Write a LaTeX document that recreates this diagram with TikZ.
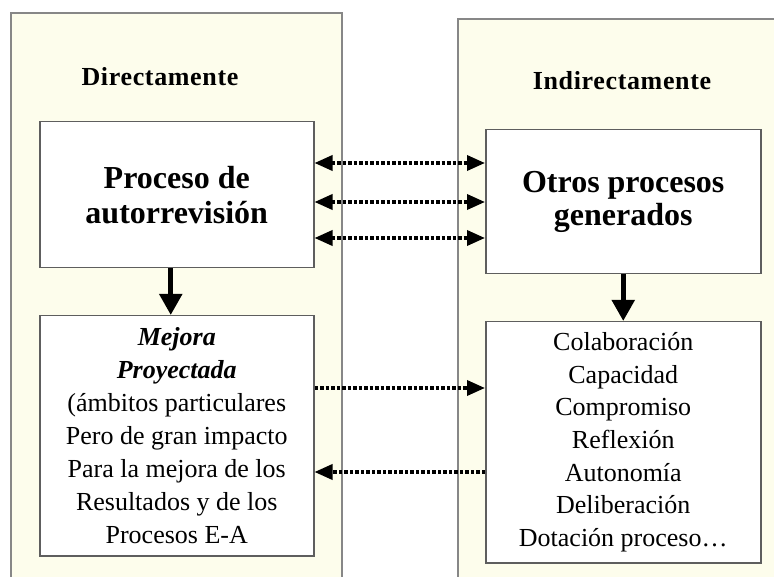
\documentclass[tikz,border=0pt]{standalone}
\usepackage{fontspec}
\setmainfont{Liberation Serif}
\usetikzlibrary{arrows.meta}
\definecolor{crema}{RGB}{253,253,236}
\definecolor{borde}{RGB}{135,135,135}
\tikzset{
	panel/.style={draw=borde,line width=1.5pt,fill=crema},
	caja/.style={draw=borde!70!black,line width=1.5pt,fill=white,inner sep=0pt,align=center,anchor=north west},
	titulo/.style={font=\fontsize{26}{30}\selectfont\bfseries\addfontfeature{LetterSpace=2.5}},
	punteada/.style={line width=3.5pt,dash pattern=on 3.5pt off 2pt},
	punta/.tip={Triangle[length=18pt,width=15pt]},
	puntagruesa/.tip={Triangle[length=21pt,width=22pt]},
}
\begin{document}
\begin{tikzpicture}[x=1pt,y=-1pt]
	\clip (0,0) rectangle (774,577);
	\fill[white] (0,0) rectangle (774,577);
	% paneles
	\draw[panel] (11,13) rectangle (342,600);
	\draw[panel] (458,19) rectangle (800,600);
	\node[titulo] (tdir) at (160,77) {Directamente};
	\node[titulo] (tindir) at (622,81) {Indirectamente};
	% cajas
	\node[caja,minimum width=274pt,minimum height=146pt,font=\fontsize{32}{35}\selectfont\bfseries] (autorev) at (39,121) {Proceso de\\autorrevisión};
	\node[caja,minimum width=275pt,minimum height=144pt,font=\fontsize{32}{33}\selectfont\bfseries] (otros) at (485,129) {Otros procesos\\generados};
	\node[caja,minimum width=274pt,minimum height=240pt,font=\fontsize{26}{33}\selectfont] (mejora) at (39,315) {\textbf{\textit{Mejora}}\\\textbf{\textit{Proyectada}}\\(ámbitos particulares\\Pero de gran impacto\\Para la mejora de los\\Resultados y de los\\Procesos E-A};
	\node[caja,minimum width=275pt,minimum height=241pt,font=\fontsize{26}{32.7}\selectfont] (efectos) at (485,321) {Colaboración\\Capacidad\\Compromiso\\Reflexión\\Autonomía\\Deliberación\\Dotación proceso\dots};
	% flechas
	\draw[line width=5pt,-puntagruesa] ([xshift=-6pt]autorev.south) -- ([xshift=-6pt]mejora.north);
	\draw[line width=5pt,-puntagruesa] (otros.south) -- (efectos.north);
	\foreach \y in {163,202,238}
		\draw[punteada,punta-punta] (autorev.east |- 0,\y) -- (otros.west |- 0,\y);
	\draw[punteada,-punta] (mejora.east |- 0,388) -- (efectos.west |- 0,388);
	\draw[punteada,-punta] (efectos.west |- 0,472) -- (mejora.east |- 0,472);
\end{tikzpicture}
\end{document}
